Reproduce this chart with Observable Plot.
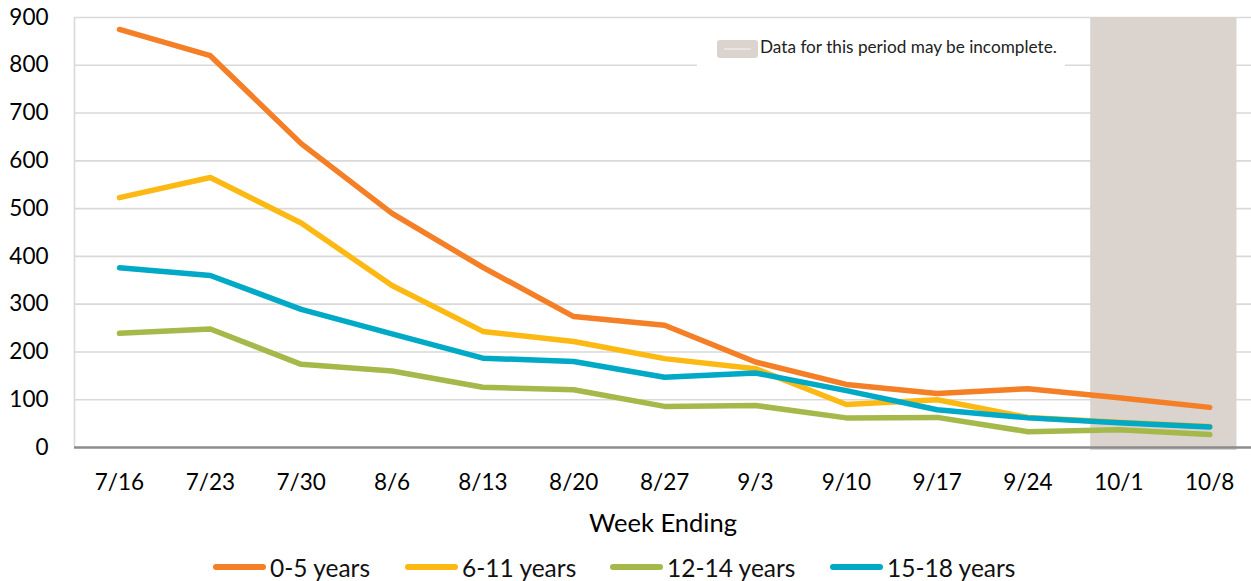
<!DOCTYPE html>
<html>
<head>
<meta charset="utf-8">
<script src="https://cdn.jsdelivr.net/npm/d3@7"></script>
<script src="https://cdn.jsdelivr.net/npm/@observablehq/plot@0.6"></script>
<style>
  html, body { margin: 0; padding: 0; background: #fff; }
  body { width: 1251px; height: 581px; position: relative; overflow: hidden; font-family: Lato, "Open Sans", sans-serif; }
  #chart { position: absolute; left: 0; top: 0; }
  #note { position: absolute; left: 697px; top: 30px; width: 368px; height: 37px; background: #fff; }
  #note .sw { position: absolute; left: 20px; top: 10px; width: 41px; height: 18px; background: #dbd3ce; border-radius: 3px; }
  #note .sw::after { content: ""; position: absolute; left: 7px; right: 7px; top: 8px; height: 2px; background: #e9e4e1; }
  #note .tx { position: absolute; left: 63px; top: 6px; font-size: 17.2px; color: #222; white-space: nowrap; }
  #legend { position: absolute; left: 0; top: 553px; width: 1251px; height: 28px; font-size: 24.5px; color: #111; }
  #legend .item { position: absolute; top: 0; display: flex; align-items: center; gap: 4px; height: 28px; }
  #legend .line { width: 53px; height: 6px; border-radius: 3px; }
</style>
</head>
<body>
<div id="chart"></div>
<div id="note"><div class="sw"></div><div class="tx">Data for this period may be incomplete.</div></div>
<div id="legend"></div>
<script>
const weeks = ["7/16","7/23","7/30","8/6","8/13","8/20","8/27","9/3","9/10","9/17","9/24","10/1","10/8"];
const seriesNames = ["0-5 years","6-11 years","12-14 years","15-18 years"];
const seriesColors = ["#f47f26","#fdb913","#a5b94a","#00a9c5"];
const age0to5   = [875, 820, 636, 490, 377, 274, 256, 179, 132, 113, 123, 104, 84];
const age6to11  = [523, 565, 470, 339, 243, 222, 186, 165,  90, 100,  63,  53, 44];
const age12to14 = [239, 248, 174, 160, 126, 121,  86,  88,  62,  63,  33,  37, 27];
const age15to18 = [376, 360, 289, 238, 187, 180, 147, 156, 119,  79,  62,  52, 43];
const yTicks = [0,100,200,300,400,500,600,700,800,900];
// incomplete-data period, in week-index units
const shadeStart = 10.69, shadeEnd = 12.3;
const legendLeft = [213, 405, 610, 830];

const allSeries = [age0to5, age6to11, age12to14, age15to18];
const data = [];
allSeries.forEach((vals, s) => vals.forEach((v, i) => data.push({i, week: weeks[i], series: seriesNames[s], value: v})));

const xDomain = [-0.495, 12.46];

const plot = Plot.plot({
  width: 1251,
  height: 545,
  marginLeft: 74,
  marginRight: 0,
  marginTop: 17,
  marginBottom: 98,
  style: {fontFamily: "Lato, 'Open Sans', sans-serif", fontSize: "22.5px", color: "#000", background: "#fff"},
  x: {type: "linear", domain: xDomain, ticks: weeks.map((_, i) => i), tickFormat: i => weeks[i], tickSize: 0, tickPadding: 27, label: null},
  y: {domain: [0, 900], ticks: yTicks, tickSize: 0, tickPadding: 26, label: null},
  color: {domain: seriesNames, range: seriesColors},
  marks: [
    Plot.ruleY(yTicks.filter(d => d > 0), {stroke: "#d9d9d9", strokeWidth: 1.6}),
    Plot.ruleX([xDomain[0]], {stroke: "#d9d9d9", strokeWidth: 1.6}),
    Plot.rect([{x1: shadeStart, x2: shadeEnd}], {x1: "x1", x2: "x2", y1: 0, y2: 900, fill: "#dbd3ce", insetBottom: -3}),
    Plot.ruleY([0], {stroke: "#8c8c8c", strokeWidth: 2.5}),
    Plot.line(data, {x: "i", y: "value", z: "series", stroke: "series", strokeWidth: 5.5, strokeLinecap: "round", strokeLinejoin: "round"}),
    Plot.text(["Week Ending"], {frameAnchor: "bottom", dy: 76, lineAnchor: "middle", fontSize: 25.5, fill: "#000"})
  ]
});
document.getElementById("chart").appendChild(plot);

const legend = document.getElementById("legend");
seriesNames.forEach((name, s) => {
  const item = document.createElement("div");
  item.className = "item";
  item.style.left = legendLeft[s] + "px";
  const ln = document.createElement("div");
  ln.className = "line";
  ln.style.background = seriesColors[s];
  const tx = document.createElement("span");
  tx.textContent = name;
  item.appendChild(ln);
  item.appendChild(tx);
  legend.appendChild(item);
});
</script>
</body>
</html>
